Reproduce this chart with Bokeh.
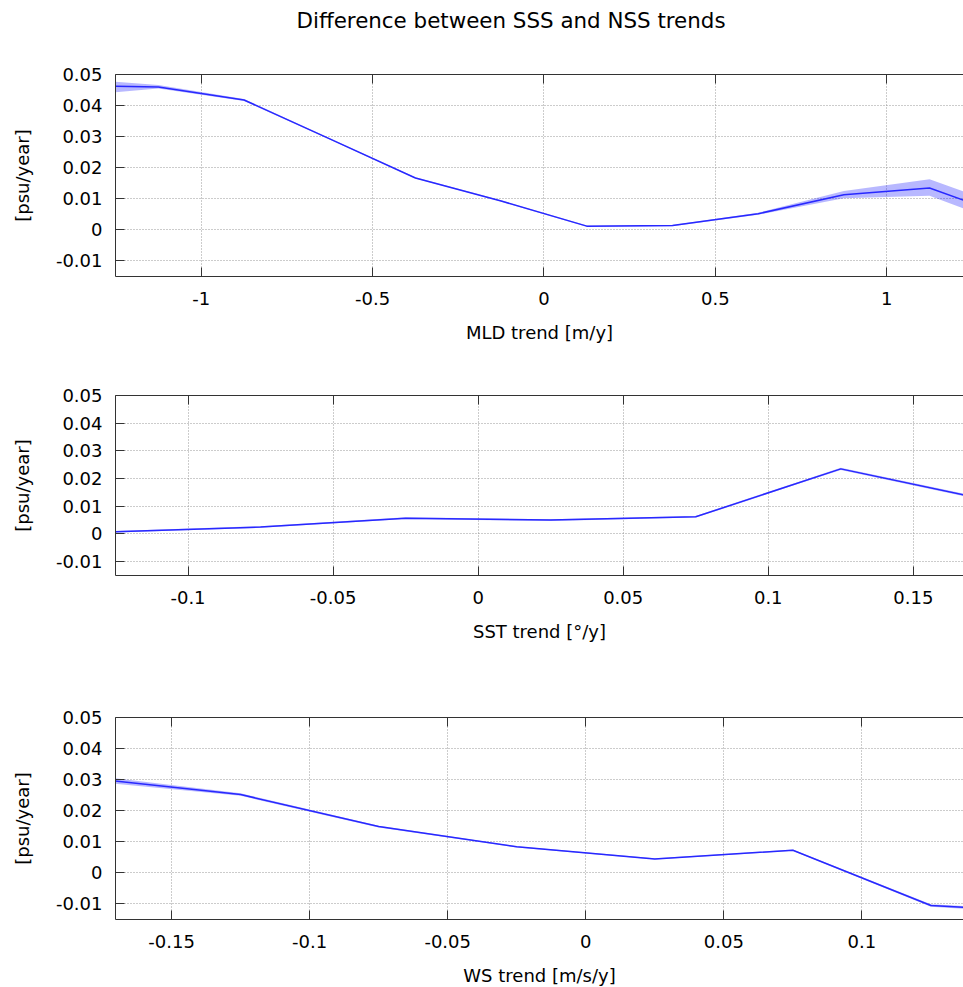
from bokeh.plotting import figure
from bokeh.layouts import column
from bokeh.models import Range1d, FixedTicker, LinearAxis, CustomJSTickFormatter
from bokeh.embed import file_html
from bokeh.resources import INLINE

FONT = "DejaVu Sans"

title_text = "Difference between SSS and NSS trends"
y_label = "[psu/year]"

# Panel 1: MLD trend
mld_x = [-1.25, -1.125, -0.875, -0.625, -0.375, -0.125, 0.125, 0.375, 0.625, 0.875, 1.125, 1.25]
mld_y = [0.0462, 0.0460, 0.0418, 0.0293, 0.0167, 0.0093, 0.0012, 0.0014, 0.0052, 0.0113, 0.0135, 0.0085]
mld_lo = [0.0443, 0.0455, 0.0415, 0.0291, 0.0165, 0.0091, 0.0010, 0.0012, 0.0049, 0.0102, 0.0110, 0.0058]
mld_hi = [0.0477, 0.0466, 0.0421, 0.0295, 0.0169, 0.0095, 0.0014, 0.0016, 0.0055, 0.0125, 0.0163, 0.0113]
mld_label = "MLD trend [m/y]"
mld_ticks = [-1.0, -0.5, 0.0, 0.5, 1.0]
mld_tick_labels = ["-1", "-0.5", "0", "0.5", "1"]

# Panel 2: SST trend
sst_x = [-0.125, -0.075, -0.025, 0.025, 0.075, 0.125, 0.175]
sst_y = [0.0008, 0.0025, 0.0057, 0.0050, 0.0062, 0.0235, 0.0124]
sst_lo = [0.0005, 0.0022, 0.0054, 0.0047, 0.0059, 0.0231, 0.0119]
sst_hi = [0.0011, 0.0028, 0.0060, 0.0053, 0.0065, 0.0239, 0.0129]
sst_label = "SST trend [°/y]"
sst_ticks = [-0.1, -0.05, 0.0, 0.05, 0.1, 0.15]
sst_tick_labels = ["-0.1", "-0.05", "0", "0.05", "0.1", "0.15"]

# Panel 3: WS trend
ws_x = [-0.175, -0.125, -0.075, -0.025, 0.025, 0.075, 0.125, 0.175]
ws_y = [0.0300, 0.0252, 0.0149, 0.0084, 0.0045, 0.0073, -0.0105, -0.0130]
ws_lo = [0.0291, 0.0248, 0.0146, 0.0082, 0.0043, 0.0071, -0.0109, -0.0135]
ws_hi = [0.0309, 0.0256, 0.0152, 0.0086, 0.0047, 0.0075, -0.0101, -0.0125]
ws_label = "WS trend [m/s/y]"
ws_ticks = [-0.15, -0.1, -0.05, 0.0, 0.05, 0.1]
ws_tick_labels = ["-0.15", "-0.1", "-0.05", "0", "0.05", "0.1"]

y_ticks = [-0.01, 0.0, 0.01, 0.02, 0.03, 0.04, 0.05]
y_tick_labels = ["-0.01", "0", "0.01", "0.02", "0.03", "0.04", "0.05"]

AXIS_COLOR = "#333333"
LINE_COLOR = "#2828ff"
FULL_W = 963
LEFT = 115


def style_axis(ax):
    ax.axis_line_color = AXIS_COLOR
    ax.major_tick_line_color = AXIS_COLOR
    ax.major_tick_in = 9
    ax.major_tick_out = 0
    ax.minor_tick_line_color = None
    ax.major_label_text_font = FONT
    ax.major_label_text_font_size = "18px"
    ax.major_label_text_color = "black"
    ax.axis_label_text_font = FONT
    ax.axis_label_text_font_size = "18px"
    ax.axis_label_text_font_style = "normal"
    ax.axis_label_text_color = "black"


def make_panel(x, y, lo, hi, xticks, xlabels, xlabel, xr, frame_h, btop, bbot):
    p = figure(frame_width=FULL_W - LEFT, frame_height=frame_h,
               x_range=Range1d(*xr), y_range=Range1d(-0.015, 0.05),
               output_backend="svg", toolbar_location=None,
               min_border_left=LEFT, min_border_right=0,
               min_border_top=btop, min_border_bottom=bbot,
               x_axis_label=xlabel, y_axis_label=y_label)
    p.outline_line_color = None
    p.background_fill_color = "white"
    p.border_fill_color = "white"

    p.varea(x=x, y1=lo, y2=hi, fill_color="#0000ff", fill_alpha=0.28)
    p.line(x=x, y=y, line_color=LINE_COLOR, line_width=1.5)

    xa = p.xaxis[0]
    xa.ticker = FixedTicker(ticks=xticks)
    xa.major_label_overrides = {float(v): s for v, s in zip(xticks, xlabels)}
    style_axis(xa)
    xa.major_label_standoff = 15
    xa.axis_label_standoff = 14

    ya = p.yaxis[0]
    ya.ticker = FixedTicker(ticks=y_ticks)
    ya.major_label_overrides = {float(v): s for v, s in zip(y_ticks, y_tick_labels)}
    style_axis(ya)
    ya.major_label_standoff = 13
    ya.axis_label_standoff = 20

    top = LinearAxis(ticker=FixedTicker(ticks=xticks),
                     formatter=CustomJSTickFormatter(code="return ''"))
    style_axis(top)
    top.major_label_text_font_size = "0px"
    top.major_label_standoff = 0
    p.add_layout(top, "above")

    for g in (p.xgrid[0], p.ygrid[0]):
        g.grid_line_color = "#999999"
        g.grid_line_dash = "1 2"
        g.grid_line_width = 1
    return p


# title strip
p0 = figure(frame_width=FULL_W, frame_height=3, output_backend="svg",
            toolbar_location=None, min_border_left=0, min_border_right=0,
            min_border_top=2, min_border_bottom=0,
            x_range=Range1d(0, 1), y_range=Range1d(0, 1))
p0.axis.visible = False
p0.grid.visible = False
p0.outline_line_color = None
p0.title.text = title_text
p0.title.align = "left"
p0.title.offset = 181
p0.title.text_font = FONT
p0.title.text_font_size = "21.4px"
p0.title.text_font_style = "normal"
p0.title.text_color = "black"
p0.title.standoff = 10

p1 = make_panel(mld_x, mld_y, mld_lo, mld_hi, mld_ticks, mld_tick_labels, mld_label,
                (-1.25, 1.224), 202, 34, 69)
p2 = make_panel(sst_x, sst_y, sst_lo, sst_hi, sst_ticks, sst_tick_labels, sst_label,
                (-0.125, 0.1673), 180, 50, 95)
p3 = make_panel(ws_x, ws_y, ws_lo, ws_hi, ws_ticks, ws_tick_labels, ws_label,
                (-0.1703, 0.1368), 202, 47, 60)

layout = column(p0, p1, p2, p3, spacing=0)

with open("out.html", "w") as f:
    f.write(file_html(layout, INLINE))
